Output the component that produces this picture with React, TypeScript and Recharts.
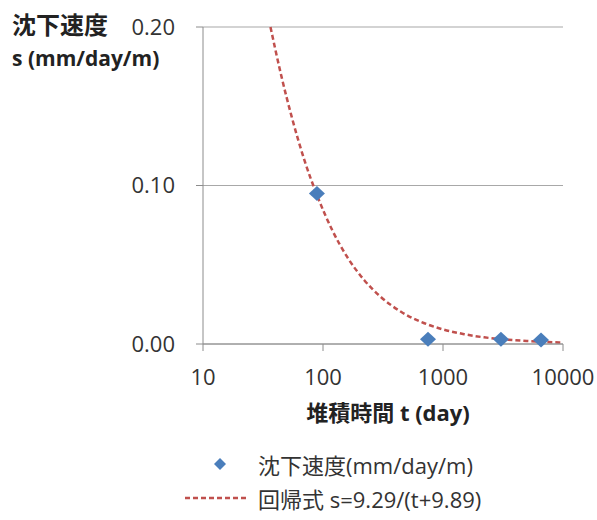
import React from "react";
import {
  ComposedChart,
  Line,
  Scatter,
  XAxis,
  YAxis,
  CartesianGrid,
} from "recharts";

// measured points (t in days, s in mm/day/m)
const obsTime = [89, 750, 3040, 6560];
const obsRate = [0.095, 0.003, 0.003, 0.0025];

// regression curve
const fitTime = [36.5, 45, 55, 70, 89, 120, 160, 220, 300, 450, 700, 1000, 1500, 2200, 3500, 5000, 7500, 10000];
const fitRate = [0.2, 0.169, 0.143, 0.116, 0.094, 0.0715, 0.0546, 0.0404, 0.03, 0.0202, 0.0131, 0.0092, 0.0062, 0.0042, 0.0027, 0.0019, 0.0012, 0.0009];

const xTicks = [10, 100, 1000, 10000];
const yTicks = [0, 0.1, 0.2];

const obsData = obsTime.map((t, i) => ({ t, s: obsRate[i] }));
const fitData = fitTime.map((t, i) => ({ t, s: fitRate[i] }));

const FONT = "'Open Sans', 'Noto Sans CJK JP', sans-serif";
const TEXT = "#333";
const BLUE = "#4a7ebb";
const RED = "#c0504d";

const Diamond = (props: any) => {
  const { cx, cy } = props;
  if (cx == null || cy == null) return null;
  return (
    <polygon
      points={`${cx},${cy - 7.5} ${cx + 8},${cy} ${cx},${cy + 7.5} ${cx - 8},${cy}`}
      fill={BLUE}
    />
  );
};

const LegendBox = () => (
  <div style={{ fontFamily: FONT, fontSize: 22, color: TEXT }}>
    <div style={{ display: "flex", alignItems: "center", height: 34 }}>
      <svg width={73} height={20}>
        <polygon points="35,4 41,10 35,16 29,10" fill={BLUE} />
      </svg>
      <span>沈下速度(mm/day/m)</span>
    </div>
    <div style={{ display: "flex", alignItems: "center", height: 34 }}>
      <svg width={73} height={20}>
        <line x1={0} y1={10} x2={64} y2={10} stroke={RED} strokeWidth={2.5} strokeDasharray="5 3" />
      </svg>
      <span>回帰式 s=9.29/(t+9.89)</span>
    </div>
  </div>
);

export default function App() {
  return (
    <div style={{ position: "absolute", left: 0, top: 0, width: 597, height: 520, background: "#fff" }}>
      <ComposedChart
        width={597}
        height={520}
        margin={{ top: 27, right: 34, left: 143, bottom: 146 }}
      >
        <CartesianGrid horizontal vertical={false} stroke="#a8a8a8" strokeWidth={1.2} />
        <XAxis
          dataKey="t"
          type="number"
          scale="log"
          domain={[10, 10000]}
          ticks={xTicks}
          allowDataOverflow
          height={30}
          stroke="#8c8c8c"
          tickSize={7}
          tickMargin={18}
          tick={{ fill: TEXT, fontSize: 22, fontFamily: FONT }}
          label={{
            value: "堆積時間 t (day)",
            position: "bottom",
            offset: 31,
            fill: "#222",
            fontSize: 22,
            fontWeight: "bold",
            fontFamily: FONT,
            dx: 5,
          }}
        />
        <YAxis
          dataKey="s"
          type="number"
          domain={[0, 0.2]}
          ticks={yTicks}
          width={60}
          stroke="#8c8c8c"
          tickSize={7}
          tickMargin={21}
          tickFormatter={(v: number) => v.toFixed(2)}
          tick={{ fill: TEXT, fontSize: 22, fontFamily: FONT }}
        />
        <Line
          data={fitData}
          dataKey="s"
          type="monotone"
          stroke={RED}
          strokeWidth={2.5}
          strokeDasharray="5 3"
          dot={false}
          isAnimationActive={false}
        />
        <Scatter
          data={obsData}
          dataKey="s"
          shape={<Diamond />}
          isAnimationActive={false}
        />
      </ComposedChart>
      <div style={{ position: "absolute", left: 185, top: 447, width: 380 }}>
        <LegendBox />
      </div>
      <div
        style={{
          position: "absolute",
          left: 12,
          top: 8,
          fontFamily: FONT,
          fontSize: 24,
          fontWeight: "bold",
          color: "#222",
          lineHeight: "34px",
        }}
      >
        沈下速度
      </div>
      <div
        style={{
          position: "absolute",
          left: 12,
          top: 44,
          fontFamily: FONT,
          fontSize: 21,
          fontWeight: "bold",
          color: "#222",
          lineHeight: "28px",
          whiteSpace: "nowrap",
        }}
      >
        s (mm/day/m)
      </div>
    </div>
  );
}
